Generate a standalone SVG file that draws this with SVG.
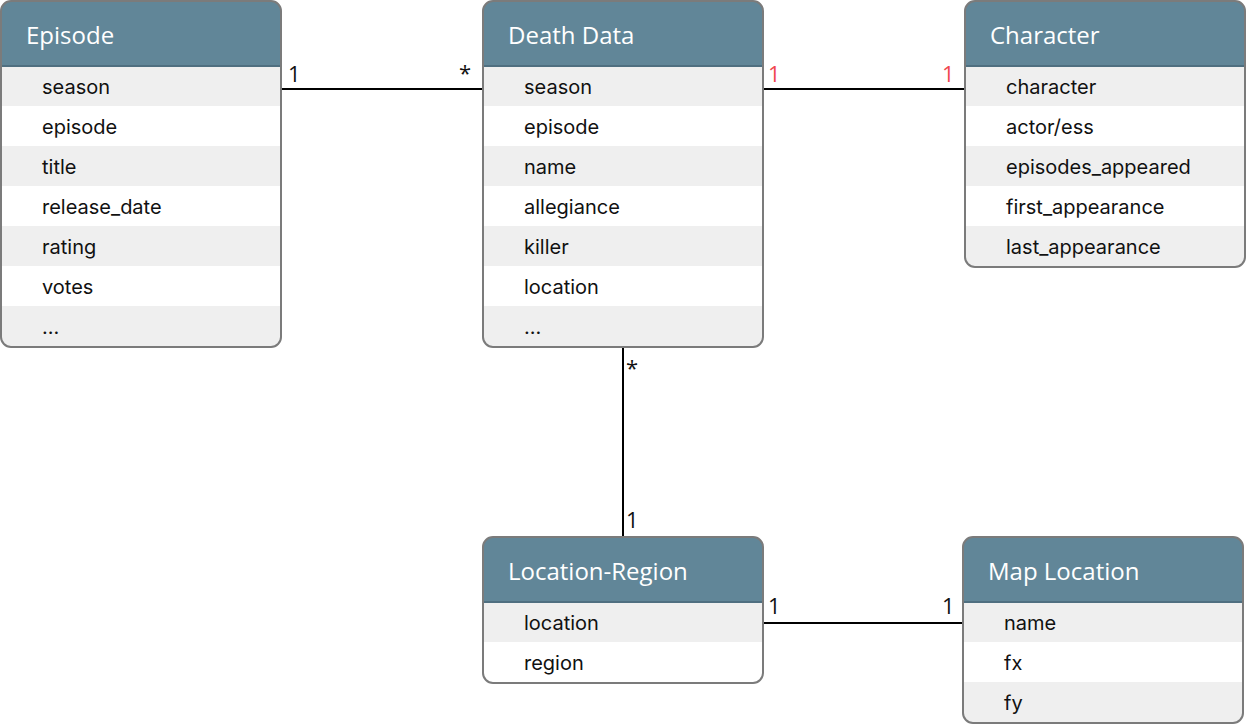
<svg xmlns="http://www.w3.org/2000/svg" width="1246" height="724" viewBox="0 0 1246 724">
<style>
.hdr{fill:#618698}
.hl{stroke:#4f6f80;stroke-width:2}
.odd{fill:#efefef}
.even{fill:#ffffff}
.frame{fill:none;stroke:#7b7b7b;stroke-width:2}
.title{font-family:"Open Sans",sans-serif;font-size:24px;fill:#ffffff}
.row{font-family:Inter,sans-serif;font-size:20px;fill:#111111}
.lbl{font-family:"Open Sans",sans-serif;font-size:22px;fill:#111111}
.red{fill:#f0474f}
.conn{stroke:#000;stroke-width:2;fill:none}
</style>
<defs>
<clipPath id="cE"><rect x="1" y="1" width="280" height="346" rx="10"/></clipPath>
<clipPath id="cD"><rect x="483" y="1" width="280" height="346" rx="10"/></clipPath>
<clipPath id="cC"><rect x="965" y="1" width="280" height="266" rx="10"/></clipPath>
<clipPath id="cL"><rect x="483" y="537" width="280" height="146" rx="10"/></clipPath>
<clipPath id="cM"><rect x="963" y="537" width="280" height="186" rx="10"/></clipPath>
</defs>
<g id="connectors">
<line class="conn" x1="281" y1="89" x2="483" y2="89"/>
<line class="conn" x1="763" y1="89" x2="965" y2="89"/>
<line class="conn" x1="623" y1="347" x2="623" y2="537"/>
<line class="conn" x1="763" y1="623" x2="963" y2="623"/>
<text class="lbl" x="288" y="82">1</text>
<text class="lbl" x="459" y="81">*</text>
<text class="lbl red" x="768" y="82">1</text>
<text class="lbl red" x="942" y="82">1</text>
<text class="lbl" x="626" y="376">*</text>
<text class="lbl" x="626" y="528">1</text>
<text class="lbl" x="768" y="614">1</text>
<text class="lbl" x="942" y="614">1</text>
</g>
<g id="episode">
<g clip-path="url(#cE)">
<rect class="hdr" x="1" y="1" width="280" height="65"/>
<rect class="odd" x="1" y="66" width="280" height="40"/>
<rect class="even" x="1" y="106" width="280" height="40"/>
<rect class="odd" x="1" y="146" width="280" height="40"/>
<rect class="even" x="1" y="186" width="280" height="40"/>
<rect class="odd" x="1" y="226" width="280" height="40"/>
<rect class="even" x="1" y="266" width="280" height="40"/>
<rect class="odd" x="1" y="306" width="280" height="41"/>
<line class="hl" x1="1" y1="66" x2="281" y2="66"/>
</g>
<rect class="frame" x="1" y="1" width="280" height="346" rx="10"/>
<text class="title" x="26" y="44">Episode</text>
<text class="row" x="42" y="94">season</text>
<text class="row" x="42" y="134">episode</text>
<text class="row" x="42" y="174">title</text>
<text class="row" x="42" y="214">release_date</text>
<text class="row" x="42" y="254">rating</text>
<text class="row" x="42" y="294">votes</text>
<text class="row" x="42" y="334">...</text>
</g>
<g id="death-data">
<g clip-path="url(#cD)">
<rect class="hdr" x="483" y="1" width="280" height="65"/>
<rect class="odd" x="483" y="66" width="280" height="40"/>
<rect class="even" x="483" y="106" width="280" height="40"/>
<rect class="odd" x="483" y="146" width="280" height="40"/>
<rect class="even" x="483" y="186" width="280" height="40"/>
<rect class="odd" x="483" y="226" width="280" height="40"/>
<rect class="even" x="483" y="266" width="280" height="40"/>
<rect class="odd" x="483" y="306" width="280" height="41"/>
<line class="hl" x1="483" y1="66" x2="763" y2="66"/>
</g>
<rect class="frame" x="483" y="1" width="280" height="346" rx="10"/>
<text class="title" x="508" y="44">Death Data</text>
<text class="row" x="524" y="94">season</text>
<text class="row" x="524" y="134">episode</text>
<text class="row" x="524" y="174">name</text>
<text class="row" x="524" y="214">allegiance</text>
<text class="row" x="524" y="254">killer</text>
<text class="row" x="524" y="294">location</text>
<text class="row" x="524" y="334">...</text>
</g>
<g id="character">
<g clip-path="url(#cC)">
<rect class="hdr" x="965" y="1" width="280" height="65"/>
<rect class="odd" x="965" y="66" width="280" height="40"/>
<rect class="even" x="965" y="106" width="280" height="40"/>
<rect class="odd" x="965" y="146" width="280" height="40"/>
<rect class="even" x="965" y="186" width="280" height="40"/>
<rect class="odd" x="965" y="226" width="280" height="41"/>
<line class="hl" x1="965" y1="66" x2="1245" y2="66"/>
</g>
<rect class="frame" x="965" y="1" width="280" height="266" rx="10"/>
<text class="title" x="990" y="44">Character</text>
<text class="row" x="1006" y="94">character</text>
<text class="row" x="1006" y="134">actor/ess</text>
<text class="row" x="1006" y="174">episodes_appeared</text>
<text class="row" x="1006" y="214">first_appearance</text>
<text class="row" x="1006" y="254">last_appearance</text>
</g>
<g id="location-region">
<g clip-path="url(#cL)">
<rect class="hdr" x="483" y="537" width="280" height="65"/>
<rect class="odd" x="483" y="602" width="280" height="40"/>
<rect class="even" x="483" y="642" width="280" height="41"/>
<line class="hl" x1="483" y1="602" x2="763" y2="602"/>
</g>
<rect class="frame" x="483" y="537" width="280" height="146" rx="10"/>
<text class="title" x="508" y="580">Location-Region</text>
<text class="row" x="524" y="630">location</text>
<text class="row" x="524" y="670">region</text>
</g>
<g id="map-location">
<g clip-path="url(#cM)">
<rect class="hdr" x="963" y="537" width="280" height="65"/>
<rect class="odd" x="963" y="602" width="280" height="40"/>
<rect class="even" x="963" y="642" width="280" height="40"/>
<rect class="odd" x="963" y="682" width="280" height="41"/>
<line class="hl" x1="963" y1="602" x2="1243" y2="602"/>
</g>
<rect class="frame" x="963" y="537" width="280" height="186" rx="10"/>
<text class="title" x="988" y="580">Map Location</text>
<text class="row" x="1004" y="630">name</text>
<text class="row" x="1004" y="670">fx</text>
<text class="row" x="1004" y="710">fy</text>
</g>
</svg>
